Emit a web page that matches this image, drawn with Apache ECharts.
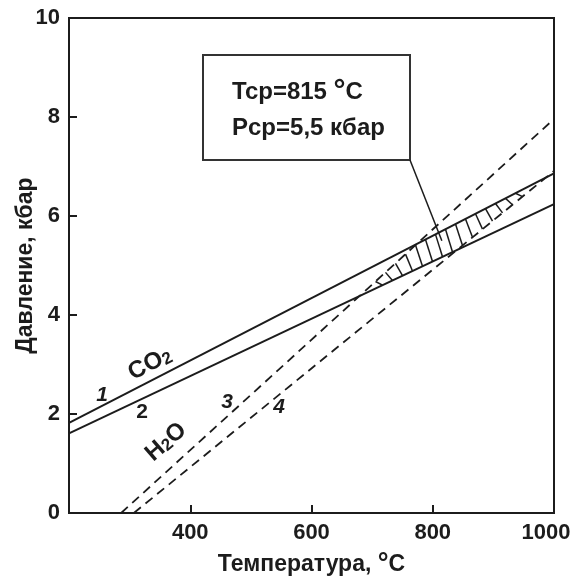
<!DOCTYPE html>
<html><head><meta charset="utf-8">
<script src="https://cdn.jsdelivr.net/npm/echarts@6/dist/echarts.min.js"></script>
<style>html,body{margin:0;padding:0;background:#fff}#c{width:572px;height:579px}</style>
</head><body><div id="c"></div>
<script>
// ---- data ----
const xTickValues = [400, 600, 800, 1000];
const yTickValues = [0, 2, 4, 6, 8, 10];
const line1CO2 = [[200, 1.82], [1000, 6.86]];
const line2CO2 = [[200, 1.61], [1000, 6.24]];
const line3H2O = [[286, 0], [1000, 7.96]];
const line4H2O = [[307, 0], [1000, 6.91]];
const criticalPoint = [815, 5.5];
const boxTextT = 'Tcp=815 ';
const boxTextP = 'Pcp=5,5 кбар';

const INK = '#1c1c1c';
const FONT = '"Liberation Sans", Arial, sans-serif';

function valAt(line, t) {
  const [a, b] = line;
  return a[1] + (b[1] - a[1]) * (t - a[0]) / (b[0] - a[0]);
}
function crossT(l1, l2) {
  const s1 = (l1[1][1] - l1[0][1]) / (l1[1][0] - l1[0][0]);
  const s2 = (l2[1][1] - l2[0][1]) / (l2[1][0] - l2[0][0]);
  const c1 = l1[0][1] - s1 * l1[0][0];
  const c2 = l2[0][1] - s2 * l2[0][0];
  return (c2 - c1) / (s1 - s2);
}

const chart = echarts.init(document.getElementById('c'), null, {renderer: 'canvas'});
const tickFont = {fontFamily: FONT, fontWeight: 'bold', fontSize: 22, color: INK};

const option = {
  animation: false,
  backgroundColor: '#fff',
  grid: {left: 69, right: 18, top: 18, bottom: 66, show: true, borderColor: INK, borderWidth: 2,
         containLabel: false, outerBoundsMode: 'none'},
  xAxis: {
    type: 'value', min: 200, max: 1000, interval: 200,
    name: '{a|Температура, }{d|°}{a|C}',
    nameLocation: 'middle', nameGap: 38, nameMoveOverlap: false,
    nameTextStyle: {
      rich: {
        a: {fontFamily: FONT, fontWeight: 'bold', fontSize: 23, color: INK},
        d: {fontFamily: FONT, fontWeight: 'bold', fontSize: 27, color: INK}
      }
    },
    axisLine: {lineStyle: {color: INK, width: 2}},
    axisTick: {inside: true, length: 8, lineStyle: {color: INK, width: 2}},
    axisLabel: {
      margin: 9, ...tickFont,
      formatter: v => xTickValues.indexOf(v) < 0 ? '' :
        (v === 1000 ? '{m|' + v + '}' : String(v)),
      rich: {m: {...tickFont, padding: [0, 16, 0, 0]}}
    },
    splitLine: {show: false}
  },
  yAxis: {
    type: 'value', min: 0, max: 10, interval: 2,
    name: 'Давление, кбар', nameLocation: 'middle', nameGap: 32, nameRotate: 90, nameMoveOverlap: false,
    nameTextStyle: {fontFamily: FONT, fontWeight: 'bold', fontSize: 23, color: INK},
    axisLine: {lineStyle: {color: INK, width: 2}},
    axisTick: {inside: true, length: 8, lineStyle: {color: INK, width: 2}},
    axisLabel: {
      margin: 9, ...tickFont,
      formatter: v => yTickValues.indexOf(v) >= 0 ? String(v) : ''
    },
    splitLine: {show: false}
  },
  series: [
    {type: 'line', data: line1CO2, showSymbol: false, lineStyle: {color: INK, width: 2}, z: 3},
    {type: 'line', data: line2CO2, showSymbol: false, lineStyle: {color: INK, width: 2}, z: 3},
    {type: 'line', data: line3H2O, showSymbol: false, lineStyle: {color: INK, width: 1.8, type: [9, 6]}, z: 3},
    {type: 'line', data: line4H2O, showSymbol: false, lineStyle: {color: INK, width: 1.8, type: [9, 6]}, z: 3},
    {
      type: 'custom', data: [[0]], z: 2, silent: true, clip: true,
      renderItem: function (params, api) {
        const upper = t => Math.min(valAt(line1CO2, t), valAt(line3H2O, t));
        const lower = t => Math.max(valAt(line2CO2, t), valAt(line4H2O, t));
        const tStart = crossT(line3H2O, line2CO2);
        const tEnd = Math.min(1000, crossT(line4H2O, line1CO2));
        const pxPerDeg = api.size([1, 0])[0];
        const step = 10 / pxPerDeg;
        const slant = 7 / pxPerDeg;
        const children = [];
        for (let t = tStart + step * 0.6; t < tEnd - step * 0.3; t += step) {
          const t2 = t + slant;
          const u = upper(t), l = lower(t2);
          if (u - l < 0.05) continue;
          const p1 = api.coord([t, u]);
          const p2 = api.coord([t2, l]);
          children.push({
            type: 'line',
            shape: {x1: p1[0], y1: p1[1], x2: p2[0], y2: p2[1]},
            style: {stroke: INK, lineWidth: 1.5}
          });
        }
        return {type: 'group', children: children};
      }
    }
  ]
};
chart.setOption(option);

const cp = chart.convertToPixel({gridIndex: 0}, criticalPoint);
const deg = Math.PI / 180;
const labelStyle = (txt, size, italic) => ({
  text: txt, fontFamily: FONT, fontWeight: 'bold', fontStyle: italic ? 'italic' : 'normal',
  fontSize: size, fill: INK, textAlign: 'center', textVerticalAlign: 'middle'
});
chart.setOption({
  graphic: [
    {type: 'rect', shape: {x: 203, y: 55, width: 207, height: 105},
     style: {fill: '#fff', stroke: '#333', lineWidth: 2}, z: 10},
    {type: 'text', x: 232, y: 92, z: 11, style: {
      text: '{a|' + boxTextT + '}{d|°}{a|C}',
      textVerticalAlign: 'middle',
      rich: {
        a: {fontFamily: FONT, fontWeight: 'bold', fontSize: 24, fill: INK, color: INK},
        d: {fontFamily: FONT, fontWeight: 'bold', fontSize: 30, fill: INK, color: INK}
      }
    }},
    {type: 'text', x: 232, y: 128, z: 11, style: {
      text: boxTextP, fontFamily: FONT, fontWeight: 'bold', fontSize: 24, fill: INK, textVerticalAlign: 'middle'
    }},
    {type: 'line', shape: {x1: 410, y1: 160, x2: cp[0], y2: cp[1]},
     style: {stroke: INK, lineWidth: 1.5}, z: 10},
    {type: 'text', x: 102, y: 395, style: labelStyle('1', 21, true), z: 11},
    {type: 'text', x: 142, y: 412, style: labelStyle('2', 21, false), z: 11},
    {type: 'text', x: 227, y: 402, style: labelStyle('3', 21, true), z: 11},
    {type: 'text', x: 279, y: 407, style: labelStyle('4', 21, true), z: 11},
    {type: 'text', x: 150, y: 364, rotation: 27 * deg, z: 11, style: {
      text: '{a|CO}{s|2}', textAlign: 'center', textVerticalAlign: 'middle',
      rich: {
        a: {fontFamily: FONT, fontWeight: 'bold', fontSize: 24, fill: INK, color: INK, verticalAlign: 'bottom', lineHeight: 24},
        s: {fontFamily: FONT, fontWeight: 'bold', fontSize: 17, fill: INK, color: INK, verticalAlign: 'bottom', lineHeight: 24}
      }
    }},
    {type: 'text', x: 166, y: 442, rotation: 41 * deg, z: 11, style: {
      text: '{a|H}{s|2}{a|O}', textAlign: 'center', textVerticalAlign: 'middle',
      rich: {
        a: {fontFamily: FONT, fontWeight: 'bold', fontSize: 24, fill: INK, color: INK, verticalAlign: 'bottom', lineHeight: 24},
        s: {fontFamily: FONT, fontWeight: 'bold', fontSize: 17, fill: INK, color: INK, verticalAlign: 'bottom', lineHeight: 24}
      }
    }}
  ]
});
</script>
</body></html>
